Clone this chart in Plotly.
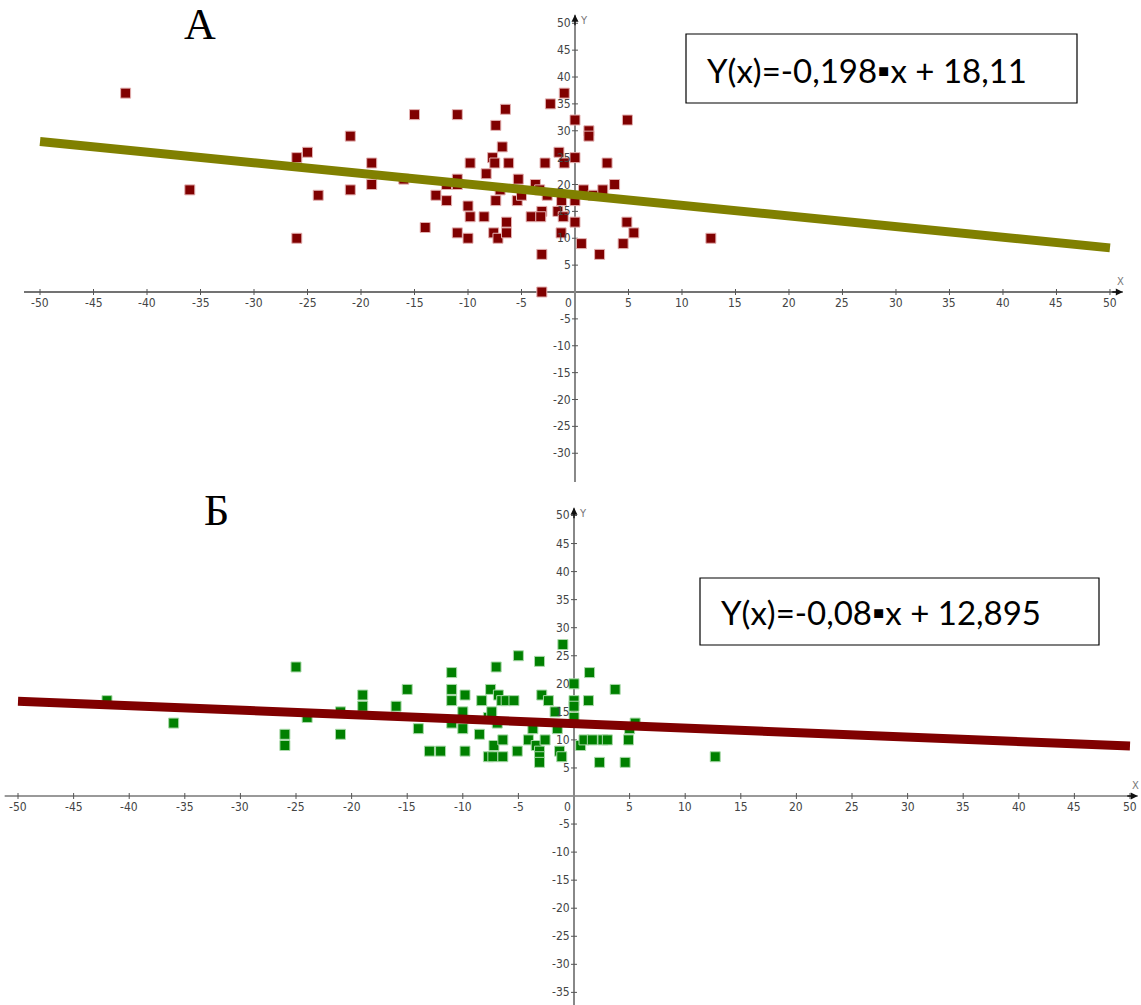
import plotly.graph_objects as go

# ---- Panel А: scatter (dark red) with fitted line (olive) ----
a_x = [-42, -36, -26, -26, -25, -24, -21, -21, -19, -19, -16, -15, -14, -13, -12, -12,
       -11, -11, -11, -11, -10, -10, -9.8, -9.8, -8.5, -8.3, -7.7, -7.5, -7.4, -7.4,
       -7.6, -7.2, -6.8, -7.0, -6.5, -6.4, -6.4, -6.2, -5.3, -5.4, -5.0, -4.1, -3.7,
       -3.3, -3.1, -3.2, -3.1, -3.1, -2.8, -2.6, -2.3, -1.6, -1.5, -1.25, -1.3, -1.0,
       -1.0, -1.1, 0, 0, 0, 0, 0.6, 0.8, 1.3, 1.3, 1.7, 2.3, 2.6, 3.0, 3.7, 4.5, 4.85,
       4.9, 5.5, 12.7]
a_y = [37, 19, 25, 10, 26, 18, 29, 19, 24, 20, 21, 33, 12, 18, 17, 20,
       33, 21, 20, 11, 16, 10, 24, 14, 14, 22, 25, 24, 31, 17,
       11, 10, 27, 19, 34, 13, 11, 24, 21, 17, 18, 14, 20,
       19, 15, 14, 7, 0, 24, 18, 35, 15, 26, 17, 11, 37,
       24, 14, 32, 25, 17, 13, 9, 19, 30, 29, 18, 7, 19, 24, 20, 9, 13,
       32, 11, 10]
a_slope = -0.198
a_intercept = 18.11
a_equation = "Y(x)=-0,198\u25aax + 18,11"

# ---- Panel Б: scatter (green) with fitted line (maroon) ----
b_x = [-42, -36, -26, -26, -25, -24, -21, -21, -19, -19, -16, -15, -14, -13, -12,
       -11, -11, -11, -11, -10, -10, -9.8, -9.8, -8.5, -8.3, -7.7, -7.5, -7.4, -7.7,
       -7.3, -7.2, -7.0, -6.9, -6.8, -6.5, -6.4, -6.4, -6.1, -5.4, -5.0, -5.1, -4.1,
       -3.7, -3.4, -3.1, -3.1, -3.1, -3.1, -2.9, -2.6, -2.3, -1.7, -1.5, -1.3, -1.1,
       -1.0, 0, 0, 0, 0, 0.6, 0.9, 1.4, 1.3, 1.65, 2.3, 2.6, 3.0, 3.7, 4.6, 4.9, 5.0,
       5.5, 12.7]
b_y = [17, 13, 11, 9, 23, 14, 15, 11, 18, 16, 16, 19, 12, 8, 8,
       22, 19, 17, 13, 15, 12, 18, 8, 11, 17, 14, 19, 15, 7,
       7, 9, 23, 13, 18, 17, 10, 7, 17, 17, 25, 8, 10,
       12, 9, 8, 7, 6, 24, 18, 10, 17, 15, 12, 8, 7,
       27, 20, 17, 16, 14, 9, 10, 22, 17, 10, 6, 10, 10, 19, 6, 10, 12,
       13, 7]
b_slope = -0.08
b_intercept = 12.895
b_equation = "Y(x)=-0,08\u25aax + 12,895"

# Fitted line is drawn over this x interval
line_x = [-50, 50]

# Tick labels of the cross-shaped axes
x_ticks = [-50, -45, -40, -35, -30, -25, -20, -15, -10, -5, 5, 10, 15, 20, 25, 30, 35, 40, 45, 50]
a_y_ticks = [-30, -25, -20, -15, -10, -5, 5, 10, 15, 20, 25, 30, 35, 40, 45, 50]
b_y_ticks = [-35, -30, -25, -20, -15, -10, -5, 5, 10, 15, 20, 25, 30, 35, 40, 45, 50]

TICK_FONT = dict(family="Liberation Sans Narrow, DejaVu Sans Condensed, sans-serif",
                 size=12, color="#444444")

fig = go.Figure()

# Panel А traces
fig.add_trace(go.Scatter(
    x=a_x, y=a_y, mode="markers", xaxis="x", yaxis="y",
    marker=dict(symbol="square", size=10, color="#800000",
                line=dict(color="#e3b1b1", width=1)),
    hoverinfo="x+y", showlegend=False))
fig.add_trace(go.Scatter(
    x=line_x, y=[a_slope * v + a_intercept for v in line_x], mode="lines",
    xaxis="x", yaxis="y", line=dict(color="#808000", width=9),
    showlegend=False))

# Panel Б traces
fig.add_trace(go.Scatter(
    x=b_x, y=b_y, mode="markers", xaxis="x2", yaxis="y2",
    marker=dict(symbol="square", size=10, color="#008000",
                line=dict(color="#a9d9a9", width=1)),
    hoverinfo="x+y", showlegend=False))
fig.add_trace(go.Scatter(
    x=line_x, y=[b_slope * v + b_intercept for v in line_x], mode="lines",
    xaxis="x2", yaxis="y2", line=dict(color="#800000", width=9),
    showlegend=False))

shapes = []
annotations = []


def draw_axes(xr, yr, x_end, y_end, y_bottom, x_start, y_ticks, x_color, y_color):
    # horizontal axis through y = 0
    shapes.append(dict(type="line", xref=xr, yref=yr, x0=x_start, x1=x_end, y0=0, y1=0,
                       line=dict(color=x_color, width=1.3), layer="below"))
    # vertical axis through x = 0
    shapes.append(dict(type="line", xref=xr, yref=yr, x0=0, x1=0, y0=y_bottom, y1=y_end,
                       line=dict(color=y_color, width=2), layer="below"))
    for t in x_ticks:
        shapes.append(dict(type="line", xref=xr, yref=yr, ysizemode="pixel", yanchor=0,
                           x0=t, x1=t, y0=-3, y1=3, line=dict(color="#555555", width=1),
                           layer="below"))
        annotations.append(dict(xref=xr, yref=yr, x=t, y=0, text=str(t), showarrow=False,
                                yanchor="top", yshift=-2, font=TICK_FONT))
    for t in y_ticks:
        shapes.append(dict(type="line", xref=xr, yref=yr, xsizemode="pixel", xanchor=0,
                           x0=-3, x1=3, y0=t, y1=t, line=dict(color="#555555", width=1),
                           layer="below"))
        annotations.append(dict(xref=xr, yref=yr, x=0, y=t, text=str(t), showarrow=False,
                                xanchor="right", xshift=-2, font=TICK_FONT))
    # origin label
    annotations.append(dict(xref=xr, yref=yr, x=0, y=0, text="0", showarrow=False,
                            xanchor="right", yanchor="top", xshift=-1, yshift=-2,
                            font=TICK_FONT))
    # arrow heads and axis names
    annotations.append(dict(xref=xr, yref=yr, x=x_end, y=0, ax=-12, ay=0,
                            axref="pixel", ayref="pixel", text="", showarrow=True,
                            arrowhead=2, arrowsize=1, arrowwidth=1.4, arrowcolor="#111111"))
    annotations.append(dict(xref=xr, yref=yr, x=0, y=y_end, ax=0, ay=12,
                            axref="pixel", ayref="pixel", text="", showarrow=True,
                            arrowhead=2, arrowsize=1, arrowwidth=1.4, arrowcolor="#111111"))
    annotations.append(dict(xref=xr, yref=yr, x=x_end, y=0, text="X", showarrow=False,
                            yanchor="bottom", yshift=3, xshift=-2,
                            font=dict(family="DejaVu Sans", size=10, color="#777777")))
    annotations.append(dict(xref=xr, yref=yr, x=0, y=y_end, text="Y", showarrow=False,
                            xanchor="left", yanchor="top", xshift=3, yshift=2,
                            font=dict(family="DejaVu Sans", size=10, color="#777777")))


draw_axes("x", "y", 51.2, 51.6, -35.4, -51.5, a_y_ticks, "#444444", "#888888")
draw_axes("x2", "y2", 50.7, 51.4, -37.3, -51.2, b_y_ticks, "#777777", "#888888")

# Equation boxes
shapes.append(dict(type="rect", xref="paper", yref="paper", x0=686 / 1141, x1=1077 / 1141,
                   y0=1 - 103 / 1005, y1=1 - 34 / 1005, line=dict(color="#000000", width=1.2),
                   fillcolor="white"))
shapes.append(dict(type="rect", xref="paper", yref="paper", x0=700 / 1141, x1=1099 / 1141,
                   y0=1 - 645 / 1005, y1=1 - 578 / 1005, line=dict(color="#000000", width=1.2),
                   fillcolor="white"))
EQ_FONT = dict(family="Lato, Open Sans, sans-serif", size=33, color="#000000")
annotations.append(dict(xref="paper", yref="paper", x=705 / 1141, y=1 - 70 / 1005,
                        text=a_equation, showarrow=False, xanchor="left", yanchor="middle",
                        font=EQ_FONT))
annotations.append(dict(xref="paper", yref="paper", x=719 / 1141, y=1 - 612 / 1005,
                        text=b_equation, showarrow=False, xanchor="left", yanchor="middle",
                        font=EQ_FONT))

# Panel letters
LETTER_FONT = dict(family="Liberation Serif, Times New Roman, serif", size=44, color="#000000")
annotations.append(dict(xref="paper", yref="paper", x=200 / 1141, y=1 - 24 / 1005, text="А",
                        showarrow=False, xanchor="center", yanchor="middle", font=LETTER_FONT))
annotations.append(dict(xref="paper", yref="paper", x=216 / 1141, y=1 - 510 / 1005, text="Б",
                        showarrow=False, xanchor="center", yanchor="middle", font=LETTER_FONT))

hidden = dict(visible=False, showgrid=False, zeroline=False, fixedrange=True)

fig.update_layout(
    width=1141, height=1005,
    margin=dict(l=0, r=0, t=0, b=0),
    paper_bgcolor="white", plot_bgcolor="white",
    showlegend=False,
    xaxis=dict(domain=[0, 1], range=[-53.74, 52.90], anchor="y", **hidden),
    yaxis=dict(domain=[1 - 482 / 1005, 1], range=[-35.35, 54.33], anchor="x", **hidden),
    xaxis2=dict(domain=[0, 1], range=[-51.62, 50.99], anchor="y2", **hidden),
    yaxis2=dict(domain=[0, 1 - 500 / 1005], range=[-37.25, 52.76], anchor="x2", **hidden),
    shapes=shapes,
    annotations=annotations,
)

fig.write_html("out.html")
